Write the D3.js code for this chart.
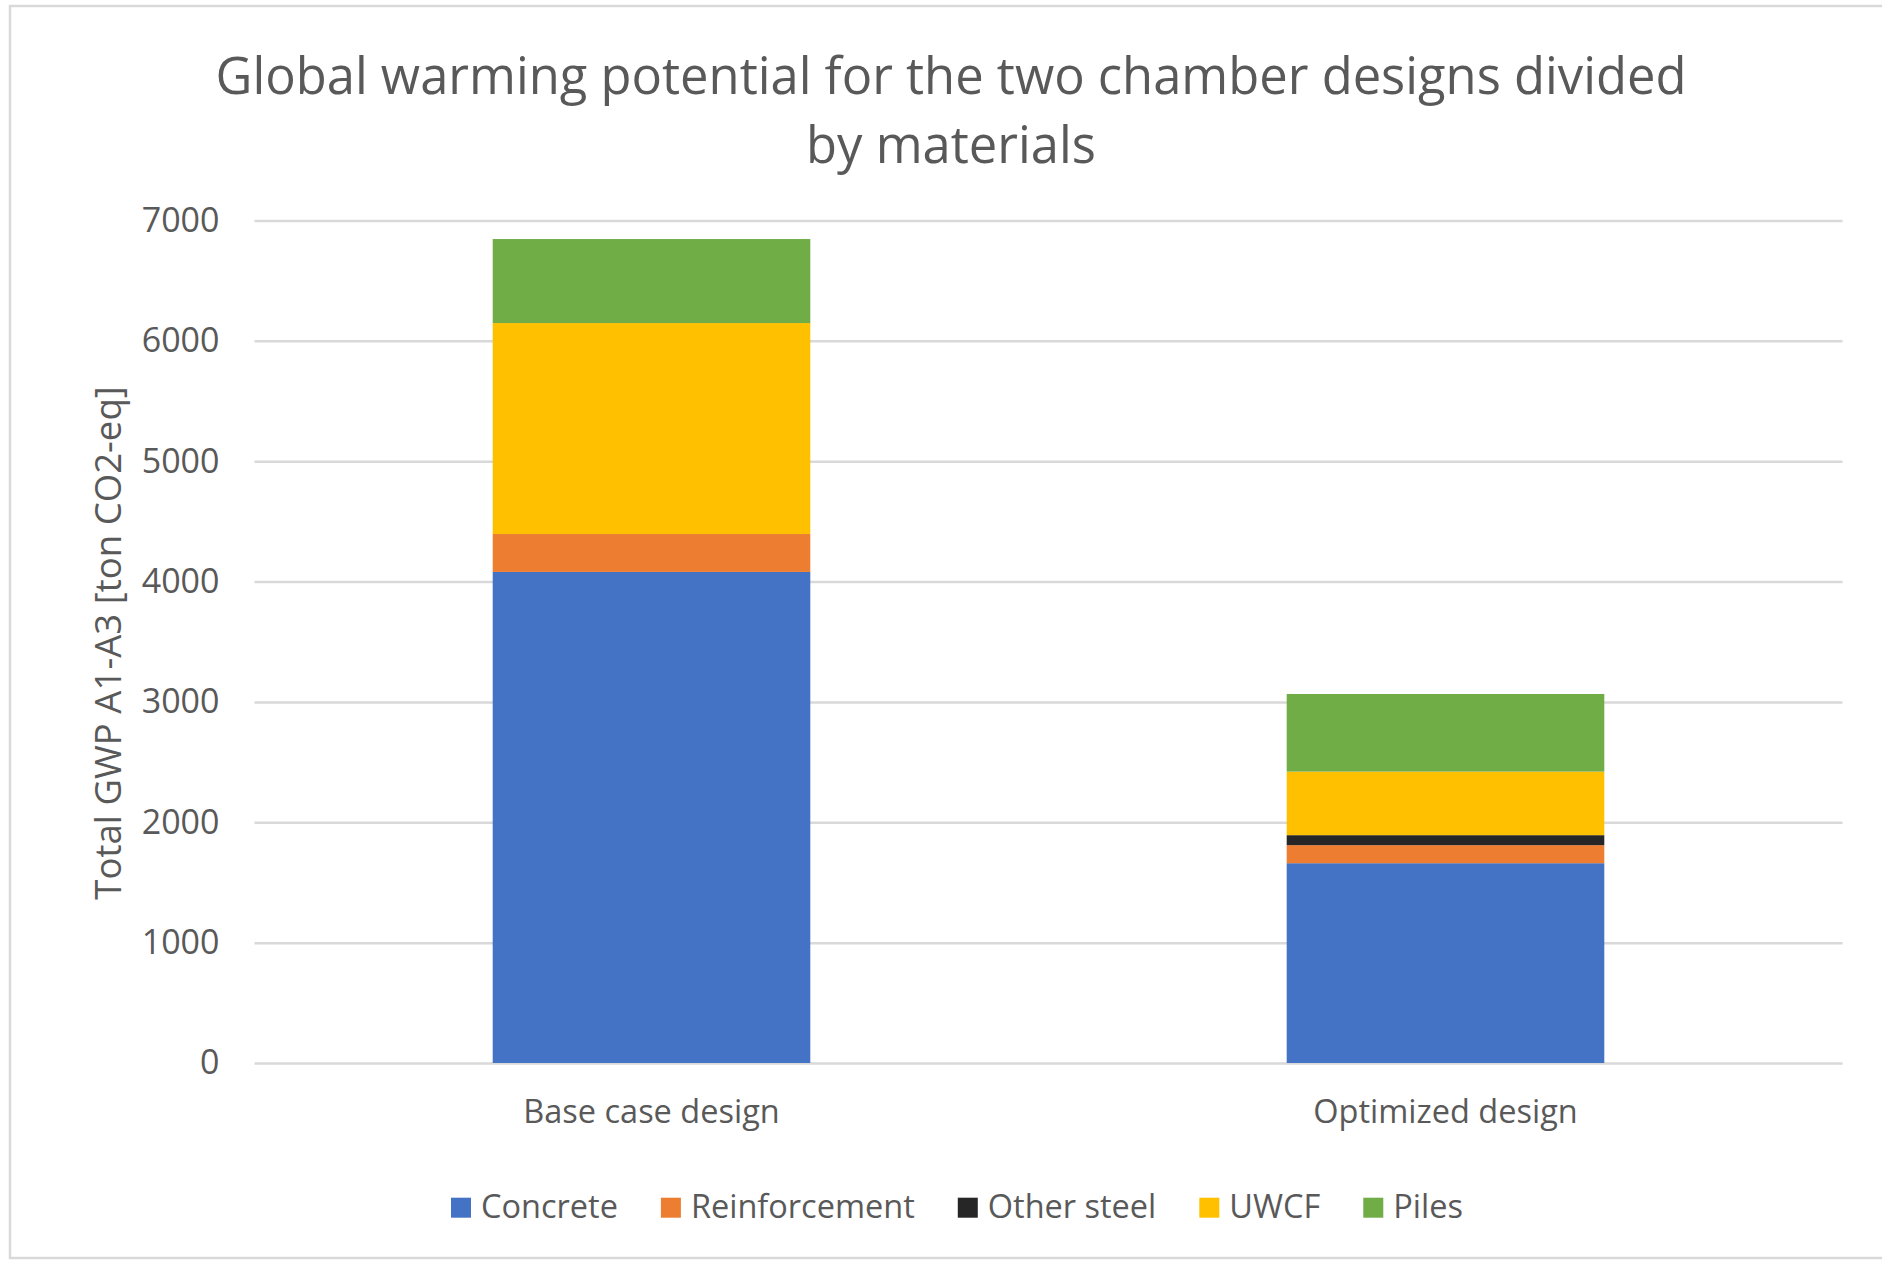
<!DOCTYPE html>
<html>
<head>
<meta charset="utf-8">
<script src="https://cdn.jsdelivr.net/npm/d3@7/dist/d3.min.js"></script>
<style>
  html, body { margin: 0; padding: 0; background: #ffffff; }
  svg { display: block; }
  text { font-family: "Open Sans", "Noto Sans", sans-serif; fill: #595959; }
</style>
</head>
<body>
<svg id="chart" width="1882" height="1262"></svg>
<script>
// Stacked GWP (A1-A3) per material for the two chamber designs
const designs = ["Base case design", "Optimized design"];
const materials = ["Concrete", "Reinforcement", "Other steel", "UWCF", "Piles"];
const concrete      = [4080, 1660];
const reinforcement = [315, 150];
const otherSteel    = [0, 83];
const uwcf          = [1753, 528];
const piles         = [698, 645];
const yTicks = [0, 1000, 2000, 3000, 4000, 5000, 6000, 7000];
const colors = ["#4472C4", "#ED7D31", "#262626", "#FFC000", "#70AD47"];
const titleLines = ["Global warming potential for the two chamber designs divided", "by materials"];
const yTitle = "Total GWP A1-A3 [ton CO2-eq]";

const rows = designs.map((d, i) => ({
  design: d,
  "Concrete": concrete[i],
  "Reinforcement": reinforcement[i],
  "Other steel": otherSteel[i],
  "UWCF": uwcf[i],
  "Piles": piles[i]
}));

const svg = d3.select("#chart");
const plot = { left: 254.5, right: 1842.5, top: 220.5, bottom: 1063 };

// chart frame
svg.append("rect")
  .attr("x", 10).attr("y", 6)
  .attr("width", 1900).attr("height", 1252)
  .attr("fill", "none").attr("stroke", "#d9d9d9").attr("stroke-width", 2.5);

const x = d3.scaleBand()
  .domain(designs)
  .range([plot.left, plot.right])
  .paddingInner(0.6)
  .paddingOuter(0.3);

const y = d3.scaleLinear()
  .domain([0, 7000])
  .range([plot.bottom, plot.top]);

// gridlines + tick labels
const yAxis = d3.axisLeft(y).tickValues(yTicks).tickSize(0).tickPadding(35).tickFormat(d3.format("d"));
const gy = svg.append("g").attr("transform", `translate(${plot.left},0)`).call(yAxis);
gy.select(".domain").remove();
gy.selectAll(".tick text")
  .attr("font-size", 34)
  .attr("fill", "#595959")
  .style("font-family", "'Open Sans', sans-serif");
gy.selectAll(".tick").append("line")
  .attr("x1", 0).attr("x2", plot.right - plot.left)
  .attr("stroke", "#d9d9d9").attr("stroke-width", 2.5);

// stacked bars
const series = d3.stack().keys(materials)(rows);
svg.append("g").selectAll("g")
  .data(series)
  .join("g")
  .attr("fill", (d, i) => colors[i])
  .selectAll("rect")
  .data(d => d)
  .join("rect")
  .attr("x", d => x(d.data.design))
  .attr("width", x.bandwidth())
  .attr("y", d => y(d[1]))
  .attr("height", d => Math.max(0, y(d[0]) - y(d[1])));

// category labels
svg.append("g").selectAll("text")
  .data(designs)
  .join("text")
  .attr("x", d => x(d) + x.bandwidth() / 2)
  .attr("y", 1123.3)
  .attr("text-anchor", "middle")
  .attr("font-size", 32.5)
  .text(d => d);

// chart title
svg.append("g").selectAll("text")
  .data(titleLines)
  .join("text")
  .attr("x", 951)
  .attr("y", (d, i) => 94.3 + i * 69)
  .attr("text-anchor", "middle")
  .attr("font-size", 50.7)
  .text(d => d);

// y-axis title
svg.append("text")
  .attr("transform", "translate(121,643) rotate(-90)")
  .attr("text-anchor", "middle")
  .attr("font-size", 36.6)
  .text(yTitle);

// legend
const legend = svg.append("g");
let lx = 451;
materials.forEach((m, i) => {
  const g = legend.append("g").attr("transform", `translate(${lx},0)`);
  g.append("rect").attr("x", 0).attr("y", 1197.7).attr("width", 20).attr("height", 20).attr("fill", colors[i]);
  const t = g.append("text").attr("x", 30).attr("y", 1217.7).attr("font-size", 32.5).text(m);
  lx += 30 + t.node().getComputedTextLength() + 43;
});
</script>
</body>
</html>
